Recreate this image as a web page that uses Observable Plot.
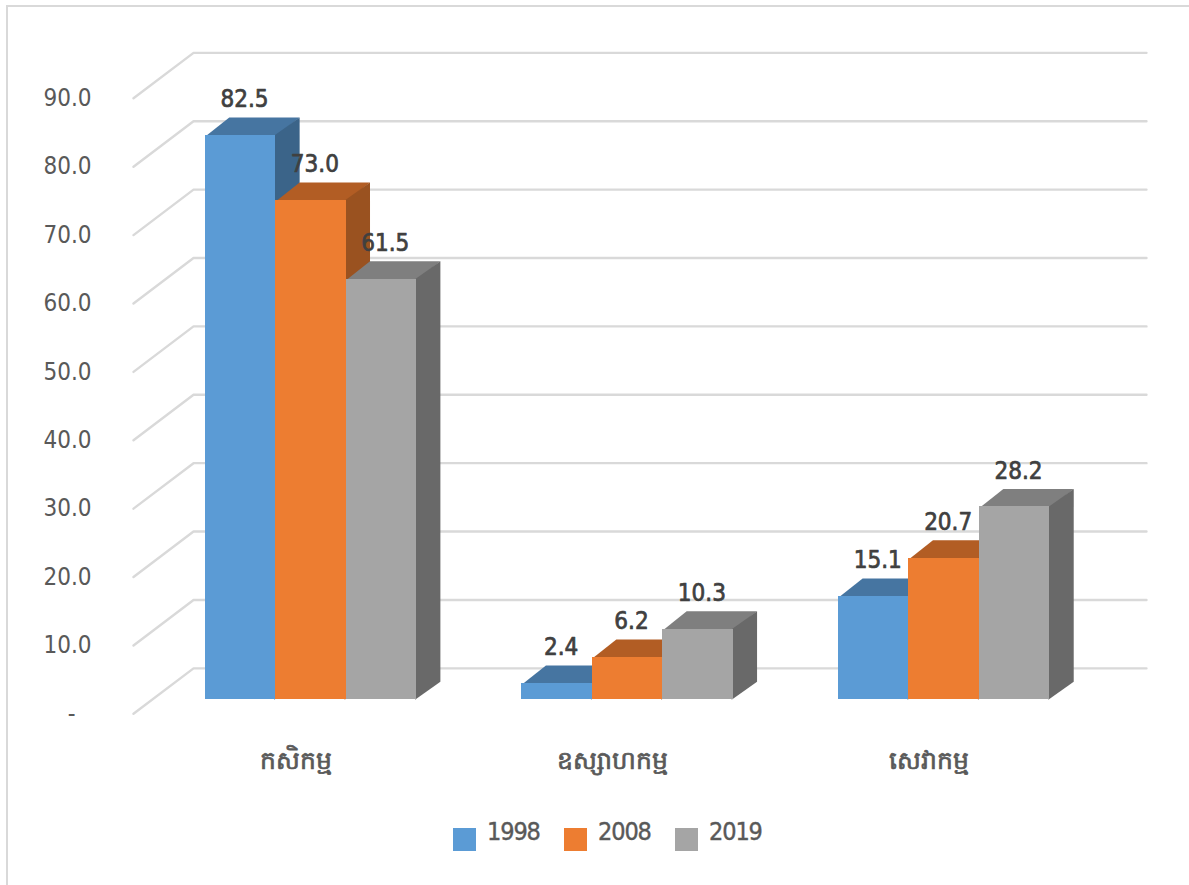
<!DOCTYPE html>
<html>
<head>
<meta charset="utf-8">
<script src="https://cdn.jsdelivr.net/npm/d3@7"></script>
<script src="https://cdn.jsdelivr.net/npm/@observablehq/plot@0.6"></script>
<style>
  html, body { margin: 0; padding: 0; background: #fff; overflow: hidden; width: 1189px; height: 885px; }
  .frame { position: absolute; left: 6px; top: 5px; width: 1190px; height: 890px; border-left: 2px solid #d9d9d9; border-top: 2px solid #d9d9d9; }
  #chart { position: absolute; left: 0; top: 0; }
  #chart svg text { font-stretch: condensed; }
  #legend { position: absolute; top: 820px; left: 453px; display: flex; color: #595959;
    font-family: "DejaVu Sans"; font-size: 25px; letter-spacing: -1.1px; font-stretch: condensed; -webkit-text-stroke: 0.4px #595959; }
  #legend .item { display: flex; width: 111px; height: 30px; }
  #legend i { display: block; width: 23px; height: 23px; margin: 8px 11px 0 0; }
  #legend span { line-height: 24px; }
</style>
</head>
<body>
<div class="frame"></div>
<div id="chart"></div>
<div id="legend"></div>
<script>
const categories = ["កសិកម្ម", "ឧស្សាហកម្ម", "សេវាកម្ម"];
const years = ["1998", "2008", "2019"];
const values1998 = [82.5, 2.4, 15.1];
const values2008 = [73.0, 6.2, 20.7];
const values2019 = [61.5, 10.3, 28.2];
const seriesValues = [values1998, values2008, values2019];
const yTicks = [0, 10, 20, 30, 40, 50, 60, 70, 80, 90];

const frontColors = ["#5B9BD5", "#ED7D31", "#A5A5A5"];
const topColors = ["#4675A1", "#B25D24", "#7F7F7F"];
const sideColors = ["#3B6489", "#9A5220", "#696969"];

// Projection of the depth axis, in data units (x: bar widths, y: value units)
const barDepthX = 0.341, barDepthY = 2.63;
const wallFrontX = -0.27, wallFrontY = -2.05, wallBackX = 0.583, wallBackY = 4.6, wallRightX = 14.125;
const groupStep = 4.5, groupStart = 0.75;
const overlapX = 0.02, overlapY = 0.15; // faces tuck under the front so no seam shows
const family = '"DejaVu Sans"';

const bars = seriesValues.map((vals, j) => vals.map((v, i) => {
  const x1 = groupStart + groupStep * i + j;
  return {x1, x2: x1 + 1, v, category: categories[i], year: years[j], j};
}));

function polygons(list) {
  return list.flatMap(b => [
    {face: "top", color: topColors[b.j], pts: [[b.x1, b.v - overlapY], [b.x1 + barDepthX, b.v + barDepthY], [b.x2 + barDepthX, b.v + barDepthY], [b.x2, b.v - overlapY]]},
    {face: "side", color: sideColors[b.j], pts: [[b.x2 - overlapX, 0], [b.x2 + barDepthX, barDepthY], [b.x2 + barDepthX, b.v + barDepthY], [b.x2 - overlapX, b.v]]}
  ].flatMap(f => f.pts.map(([x, y]) => ({x, y, id: f.face + b.category, color: f.color}))));
}

const diagonals = yTicks.flatMap(t => [
  {x: wallFrontX, y: t + wallFrontY, t},
  {x: wallBackX, y: t + wallBackY, t},
  {x: wallRightX, y: t + wallBackY, t}
]);

const marks = [
  Plot.line(diagonals, {x: "x", y: "y", z: "t", stroke: "#d9d9d9", strokeWidth: 2.4, curve: "linear"})
];
bars.forEach((list, j) => {
  marks.push(
    Plot.line(polygons(list), {x: "x", y: "y", z: "id", fill: "color", stroke: "none", curve: "linear"}),
    Plot.rect(list, {x1: "x1", x2: "x2", y1: 0, y2: "v", fill: frontColors[j], shapeRendering: "crispEdges"})
  );
});
bars.forEach(list => {
  marks.push(Plot.text(list, {
    x: d => (d.x1 + d.x2) / 2, y: "v", text: d => d.v.toFixed(1),
    dx: 4, dy: -36, fontSize: 24, fontFamily: family, fill: "#404040", stroke: "#404040", strokeWidth: 0.7
  }));
});
marks.push(
  Plot.text(yTicks.filter(t => t > 0), {
    x: -0.867, y: d => d + wallFrontY, text: d => d.toFixed(1),
    textAnchor: "end", fontSize: 24, fontFamily: family, fill: "#595959"
  }),
  Plot.text([0], {
    x: -0.867, y: d => d + wallFrontY, text: () => "-",
    dx: -16, textAnchor: "end", fontSize: 24, fontFamily: family, fill: "#595959"
  }),
  Plot.text(categories, {
    x: (d, i) => groupStart + groupStep * i + 1.5, y: 0, text: d => d,
    dx: -15, dy: 61, fontSize: 25, fontFamily: family, fill: "#595959", stroke: "#595959", strokeWidth: 0.7
  })
);

const plot = Plot.plot({
  width: 1189, height: 810,
  x: {axis: null, domain: [0, 13.5], range: [152, 1102]},
  y: {axis: null, domain: [0, 90], range: [699.3, 83.8]},
  style: {background: "transparent", overflow: "visible"},
  marks
});
document.getElementById("chart").append(plot);

const legend = document.getElementById("legend");
years.forEach((y, j) => {
  const item = document.createElement("div");
  item.className = "item";
  const sw = document.createElement("i");
  sw.style.background = frontColors[j];
  const t = document.createElement("span");
  t.textContent = y;
  item.append(sw, t);
  legend.append(item);
});
</script>
</body>
</html>
